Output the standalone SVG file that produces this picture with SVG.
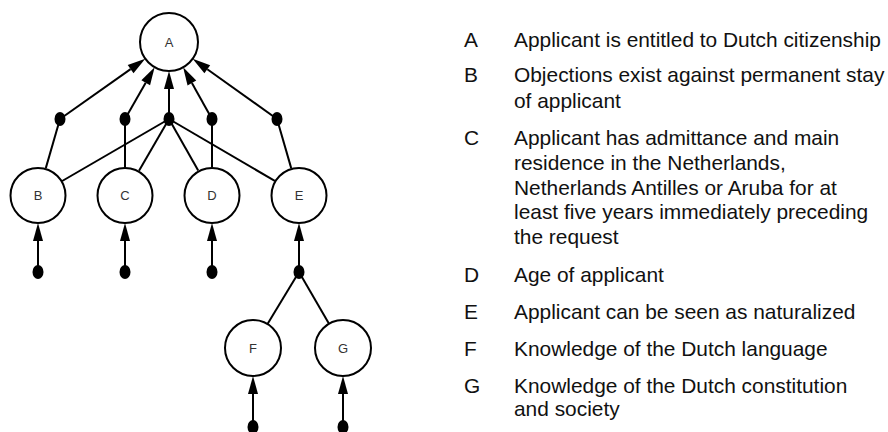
<svg xmlns="http://www.w3.org/2000/svg" width="888" height="432" viewBox="0 0 888 432">
  <defs>
    <style>
      .node circle { fill: #fff; stroke: #000; stroke-width: 2; }
      .node text { font-family: "Liberation Sans", Arial, sans-serif; font-size: 13px; fill: #333; text-anchor: middle; }
      .edges line { stroke: #000; stroke-width: 2; }
      .edges .arr { marker-end: url(#head); }
      .dot { fill: #000; }
      .legend text { font-family: "Liberation Sans", Arial, sans-serif; font-size: 20.9px; fill: #111; }
    </style>
    <marker id="head" markerUnits="userSpaceOnUse" markerWidth="18" markerHeight="10" refX="0" refY="5" orient="auto" overflow="visible">
      <path d="M0,0 L18,5 L0,10 Z" fill="#000"/>
    </marker>
  </defs>

  <rect width="888" height="432" fill="#fff"/>

  <!-- connectors -->
  <g id="connectors" class="edges">
    <!-- supports of A -->
    <line class="arr" x1="60" y1="119" x2="130.6" y2="69.1"/>
    <line class="arr" x1="125" y1="119" x2="145.7" y2="82.8"/>
    <line class="arr" x1="169" y1="119" x2="169" y2="89"/>
    <line class="arr" x1="212" y1="119" x2="191.9" y2="83"/>
    <line class="arr" x1="277" y1="119" x2="207.3" y2="69.3"/>
    <!-- single-premise links -->
    <line x1="60" y1="119" x2="45.8" y2="168.1"/>
    <line x1="125" y1="119" x2="125" y2="167.5"/>
    <line x1="212" y1="119" x2="212" y2="167.5"/>
    <line x1="277" y1="119" x2="291.2" y2="168.1"/>
    <!-- combined link -->
    <line x1="169" y1="119" x2="62.2" y2="181"/>
    <line x1="169" y1="119" x2="139" y2="170.8"/>
    <line x1="169" y1="119" x2="198.2" y2="170.6"/>
    <line x1="169" y1="119" x2="274.8" y2="180.9"/>
    <!-- inputs to B, C, D, E -->
    <line class="arr" x1="38" y1="272" x2="38" y2="241"/>
    <line class="arr" x1="125" y1="272" x2="125" y2="241"/>
    <line class="arr" x1="212" y1="272" x2="212" y2="241"/>
    <line class="arr" x1="299" y1="272" x2="299" y2="241"/>
    <!-- E from F and G -->
    <line x1="299" y1="272" x2="267.5" y2="324"/>
    <line x1="299" y1="272" x2="329" y2="323.8"/>
    <!-- inputs to F, G -->
    <line class="arr" x1="253" y1="427" x2="253" y2="394"/>
    <line class="arr" x1="343" y1="427" x2="343" y2="394"/>

    <!-- junction dots -->
    <ellipse class="dot" cx="60" cy="119" rx="5.5" ry="7"/>
    <ellipse class="dot" cx="125" cy="119" rx="5.5" ry="7"/>
    <ellipse class="dot" cx="169" cy="119" rx="5.5" ry="7"/>
    <ellipse class="dot" cx="212" cy="119" rx="5.5" ry="7"/>
    <ellipse class="dot" cx="277" cy="119" rx="5.5" ry="7"/>
    <ellipse class="dot" cx="38" cy="272" rx="5.5" ry="7"/>
    <ellipse class="dot" cx="125" cy="272" rx="5.5" ry="7"/>
    <ellipse class="dot" cx="212" cy="272" rx="5.5" ry="7"/>
    <ellipse class="dot" cx="299" cy="272" rx="5.5" ry="7"/>
    <ellipse class="dot" cx="253" cy="427" rx="5.5" ry="7"/>
    <ellipse class="dot" cx="343" cy="427" rx="5.5" ry="7"/>
  </g>

  <!-- nodes -->
  <g id="node-A" class="node"><circle cx="169" cy="42" r="29"/><text x="169" y="47">A</text></g>
  <g id="node-B" class="node"><circle cx="38" cy="195.5" r="27.5"/><text x="38" y="200">B</text></g>
  <g id="node-C" class="node"><circle cx="125" cy="195.5" r="27.5"/><text x="125" y="200">C</text></g>
  <g id="node-D" class="node"><circle cx="212" cy="195.5" r="27.5"/><text x="212" y="200">D</text></g>
  <g id="node-E" class="node"><circle cx="299" cy="195.5" r="27.5"/><text x="299" y="200">E</text></g>
  <g id="node-F" class="node"><circle cx="253" cy="348" r="28"/><text x="253" y="352.5">F</text></g>
  <g id="node-G" class="node"><circle cx="343" cy="348" r="28"/><text x="343" y="352.5">G</text></g>

  <!-- legend -->
  <g id="legend" class="legend">
    <text x="464" y="46.5">A</text>
    <text x="514" y="46.5">Applicant is entitled to Dutch citizenship</text>
    <text x="464" y="82.3">B</text>
    <text x="514" y="82.3">Objections exist against permanent stay</text>
    <text x="514" y="107.5">of applicant</text>
    <text x="464" y="145.3">C</text>
    <text x="514" y="145.3">Applicant has admittance and main</text>
    <text x="514" y="170">residence in the Netherlands,</text>
    <text x="514" y="194.7">Netherlands Antilles or Aruba for at</text>
    <text x="514" y="219.4">least five years immediately preceding</text>
    <text x="514" y="244.1">the request</text>
    <text x="464" y="281.7">D</text>
    <text x="514" y="281.7">Age of applicant</text>
    <text x="464" y="319">E</text>
    <text x="514" y="319">Applicant can be seen as naturalized</text>
    <text x="464" y="355.7">F</text>
    <text x="514" y="355.7">Knowledge of the Dutch language</text>
    <text x="464" y="392.7">G</text>
    <text x="514" y="392.7">Knowledge of the Dutch constitution</text>
    <text x="514" y="416">and society</text>
  </g>
</svg>
